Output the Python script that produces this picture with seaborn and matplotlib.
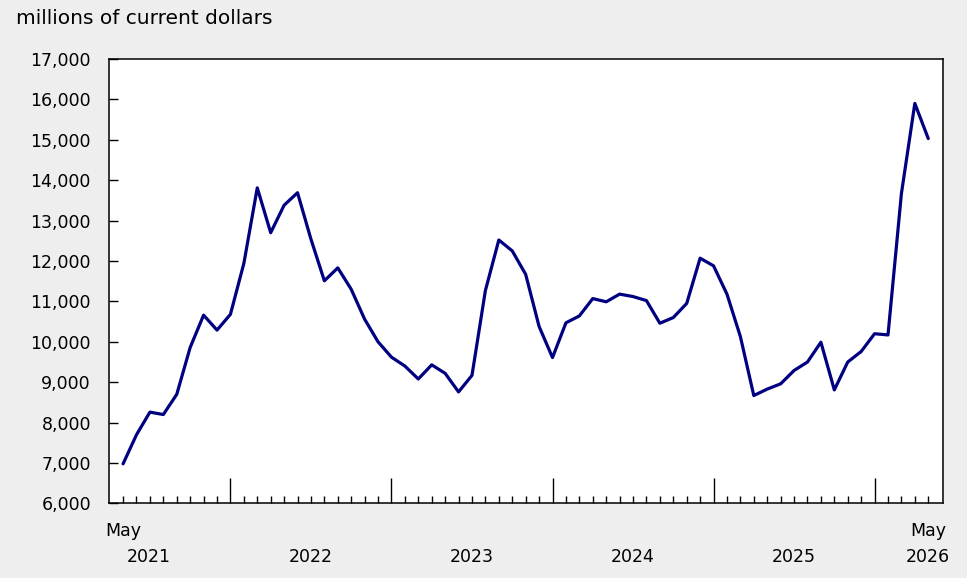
import numpy as np
import pandas as pd
import seaborn as sns
import matplotlib.pyplot as plt
from matplotlib.ticker import FuncFormatter, FixedLocator

# monthly values, May 2021 to May 2026 (millions of current dollars)
months = pd.period_range("2021-05", "2026-05", freq="M").strftime("%Y-%m").tolist()
values = [
    6980, 7700, 8260, 8200, 8700, 9860, 10660, 10290,                         # 2021
    10680, 11940, 13810, 12700, 13380, 13690, 12540, 11510, 11830, 11300, 10560, 10000,  # 2022
    9620, 9400, 9080, 9430, 9220, 8760, 9170, 11270, 12520, 12250, 11670, 10380,  # 2023
    9610, 10470, 10640, 11070, 10990, 11180, 11120, 11020, 10460, 10600, 10950, 12070,  # 2024
    11880, 11180, 10130, 8670, 8830, 8960, 9290, 9500, 9990, 8810, 9500, 9760,  # 2025
    10200, 10170, 13670, 15900, 15030,                                        # 2026
]
year_labels = ["2021", "2022", "2023", "2024", "2025", "2026"]
y_ticks = list(range(6000, 17001, 1000))

df = pd.DataFrame({"month": months, "value": values})
df["pos"] = np.arange(len(df))
jan_pos = df.loc[df["month"].str.endswith("-01"), "pos"].tolist()
other_pos = [p for p in df["pos"] if p not in jan_pos]

sns.set_style("ticks")
plt.rcParams["font.family"] = ["DejaVu Sans"]
plt.rcParams["text.color"] = "black"

fig = plt.figure(figsize=(9.67, 5.78), dpi=100, facecolor="#eeeeee")
ax = fig.add_axes([0.1127, 0.129, 0.8625, 0.769])
ax.set_facecolor("white")

sns.lineplot(data=df, x="pos", y="value", ax=ax, color="#000080", linewidth=2.3)

ax.set_xlim(-1.05, 61.1)
ax.set_ylim(6000, 17000)
ax.set_yticks(y_ticks)
ax.yaxis.set_major_formatter(FuncFormatter(lambda v, p: f"{v:,.0f}"))
ax.tick_params(axis="y", direction="in", length=6.5, width=1, pad=13,
               labelsize=12.5, colors="black")

ax.xaxis.set_major_locator(FixedLocator(jan_pos))
ax.xaxis.set_minor_locator(FixedLocator(other_pos))
ax.tick_params(axis="x", which="major", direction="in", length=18, width=1,
               labelbottom=False, colors="black")
ax.tick_params(axis="x", which="minor", direction="in", length=5, width=1,
               labelbottom=False, colors="black")
ax.set_xlabel("")
ax.set_ylabel("")

for s in ax.spines.values():
    s.set_visible(True)
    s.set_color("black")
    s.set_linewidth(1.1)

# x labels: first/last month and years centred between January ticks
tr = ax.get_xaxis_transform()
first, last = df["pos"].iloc[0], df["pos"].iloc[-1]
ax.text(first, -0.062, "May", transform=tr, ha="center", va="center", fontsize=12.5)
ax.text(last, -0.062, "May", transform=tr, ha="center", va="center", fontsize=12.5)
year_pos = [1.95] + [(a + b) / 2 for a, b in zip(jan_pos[:-1], jan_pos[1:])] + [last]
for xp, lab in zip(year_pos, year_labels):
    ax.text(xp, -0.12, lab, transform=tr, ha="center", va="center", fontsize=12.5)

fig.text(16 / 967, 1 - 18 / 578, "millions of current dollars",
         ha="left", va="center", fontsize=14.5)

fig.savefig("out.png", dpi=100, facecolor=fig.get_facecolor())
